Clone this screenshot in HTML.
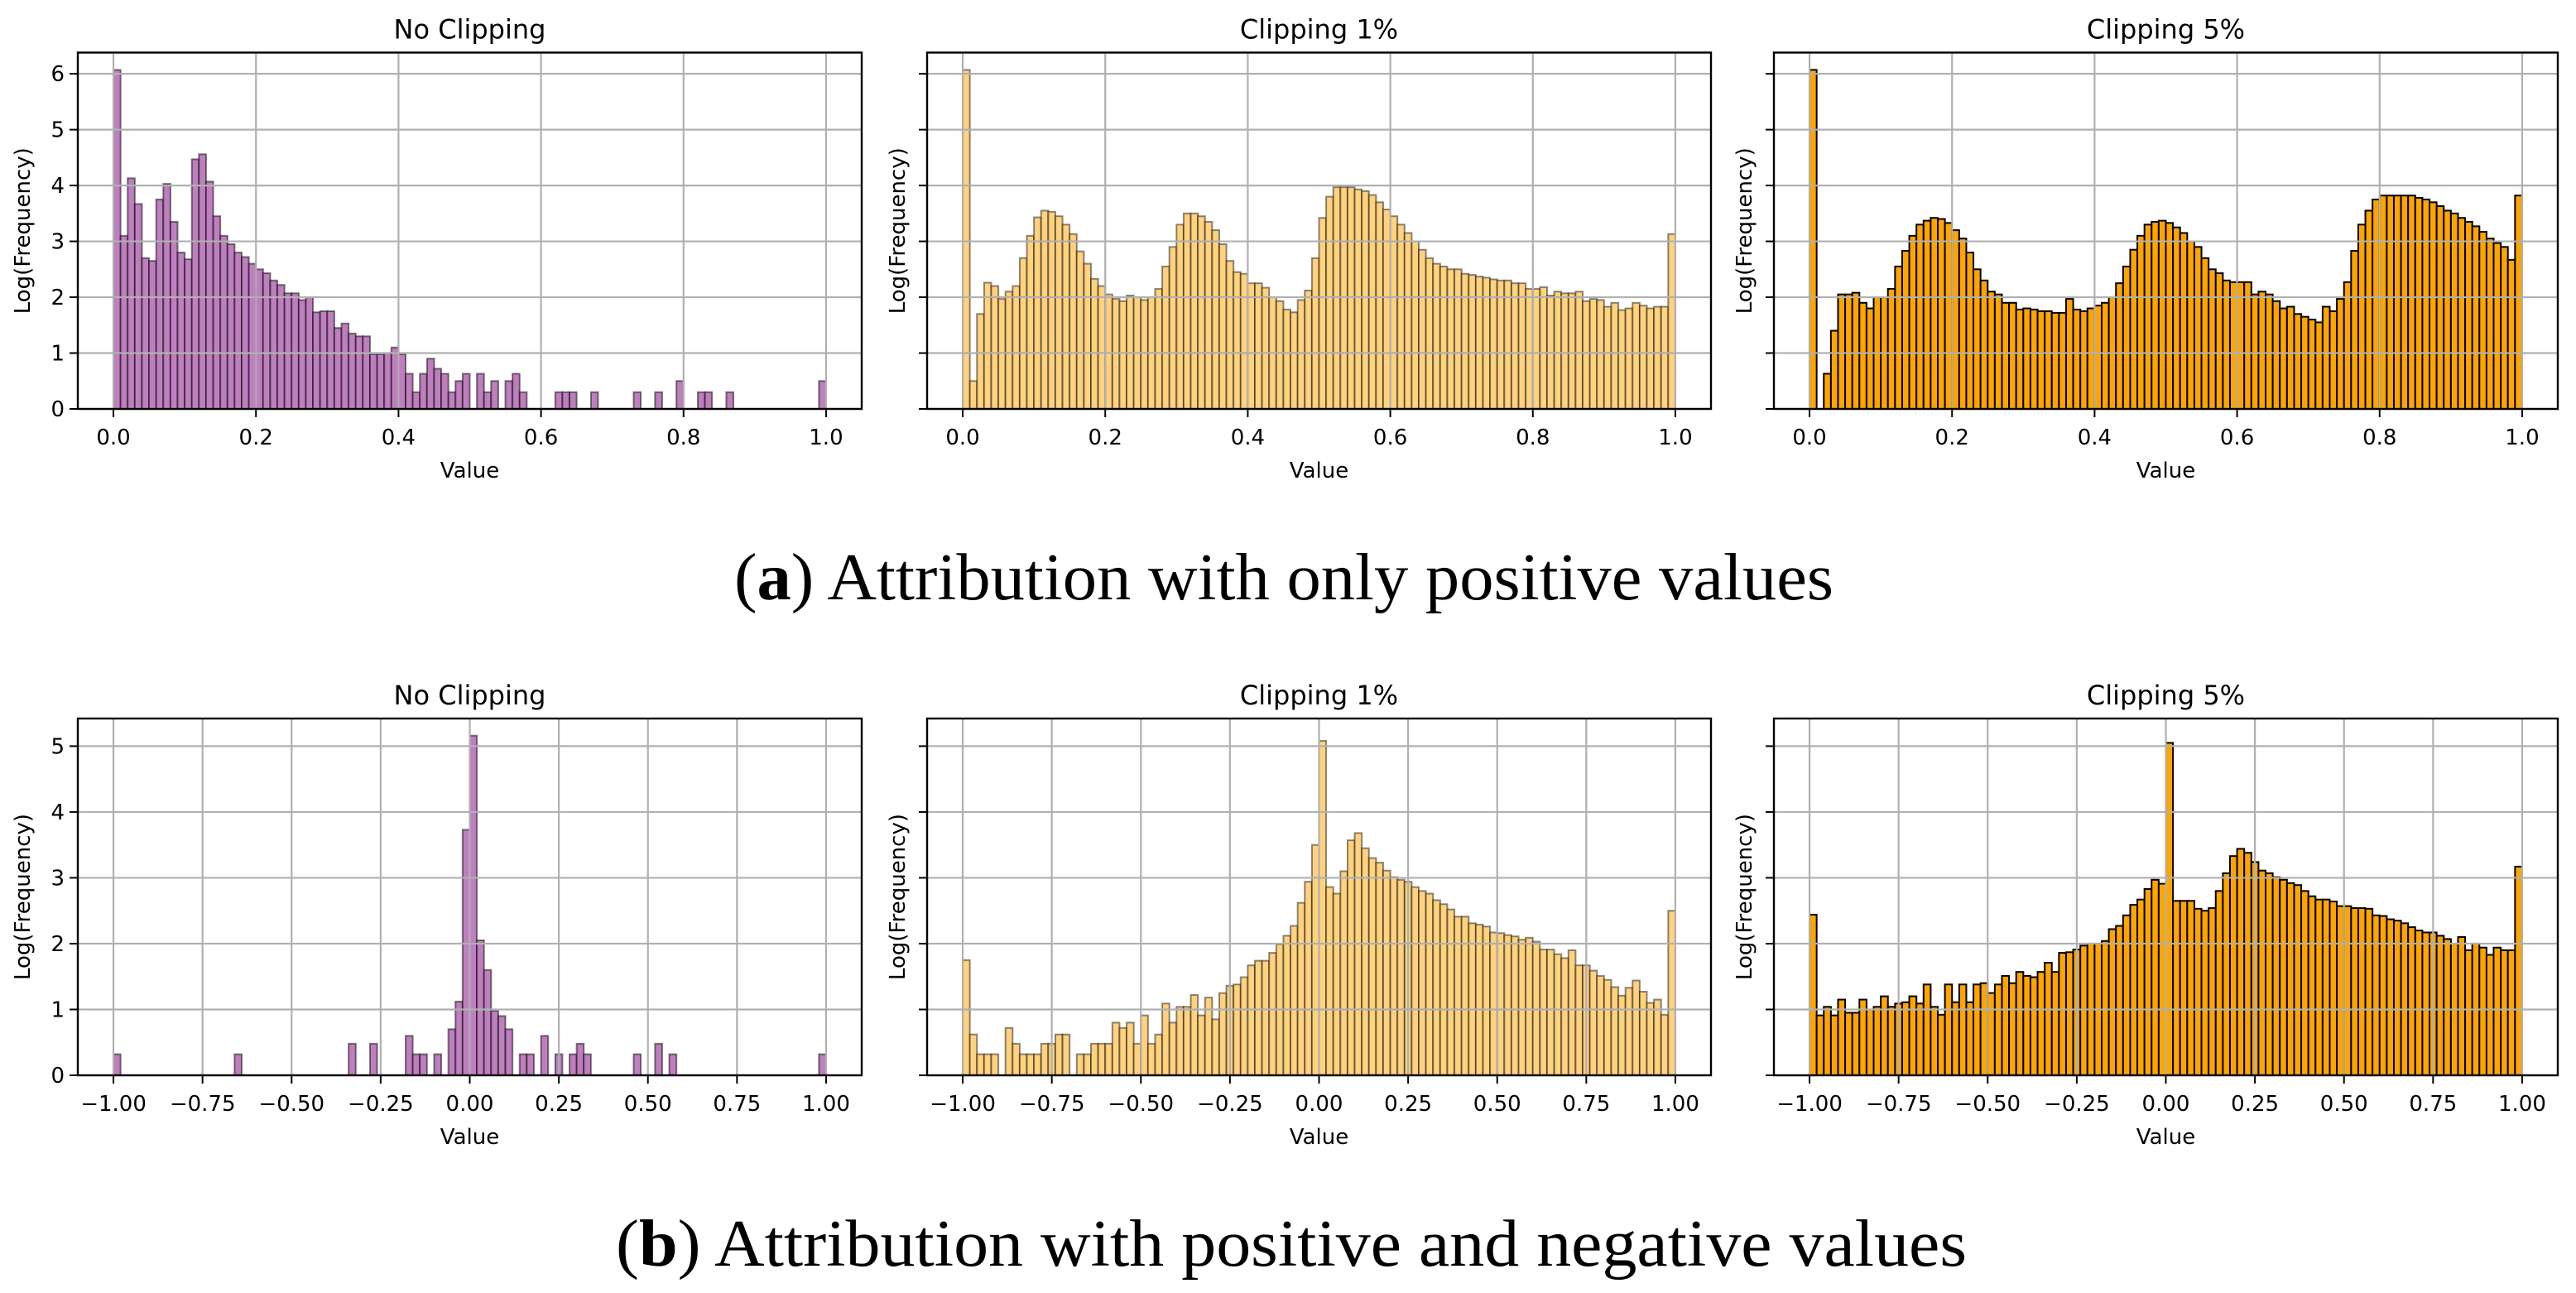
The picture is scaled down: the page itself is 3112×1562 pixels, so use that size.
<!DOCTYPE html>
<html><head><meta charset="utf-8"><style>
html,body{margin:0;padding:0;background:#fff;}
svg{display:block;}
</style></head><body>
<svg id="fig" width="3112" height="1562" viewBox="0 0 3112 1562" xmlns="http://www.w3.org/2000/svg">
<rect x="0" y="0" width="3112" height="1562" fill="#fff"/>
<text x="1551" y="724" text-anchor="middle" font-family="Liberation Serif, serif" font-size="80" textLength="1328" lengthAdjust="spacingAndGlyphs">(<tspan font-weight="bold">a</tspan>) Attribution with only positive values</text>
<text x="1560" y="1529" text-anchor="middle" font-family="Liberation Serif, serif" font-size="80" textLength="1632" lengthAdjust="spacingAndGlyphs">(<tspan font-weight="bold">b</tspan>) Attribution with positive and negative values</text>
</svg>
<script>
const a1 = [6.07,3.1,4.13,3.67,2.7,2.65,3.75,4.03,3.35,2.8, 2.68,4.47,4.56,4.07,3.45,3.1,2.95,2.8,2.72,2.6, 2.5,2.43,2.3,2.22,2.07,2.07,1.95,2.0,1.73,1.75, 1.75,1.45,1.53,1.35,1.3,1.3,0.98,0.98,1.0,1.1, 0.98,0.63,0.3,0.63,0.9,0.72,0.63,0.3,0.5,0.63, 0,0.63,0.3,0.5,0,0.5,0.63,0.3,0,0, 0,0,0.3,0.3,0.3,0,0,0.3,0,0, 0,0,0,0.3,0,0,0.3,0,0,0.5, 0,0,0.3,0.3,0,0,0.3,0,0,0, 0,0,0,0,0,0,0,0,0,0.5];
const a2 = [6.07,0.5,1.7,2.26,2.2,1.97,2.1,2.2,2.7,3.1, 3.43,3.55,3.53,3.45,3.3,3.13,2.82,2.6,2.33,2.2, 2.05,1.97,1.93,2.03,2.0,1.95,2.0,2.15,2.55,2.9, 3.3,3.5,3.5,3.45,3.35,3.2,2.95,2.65,2.45,2.42, 2.25,2.25,2.17,2.0,1.93,1.78,1.73,1.95,2.12,2.7, 3.42,3.8,3.97,3.97,3.97,3.93,3.9,3.83,3.7,3.57, 3.45,3.3,3.15,3.0,2.85,2.7,2.6,2.55,2.5,2.5, 2.42,2.4,2.37,2.35,2.32,2.3,2.3,2.25,2.25,2.15, 2.15,2.18,2.03,2.1,2.07,2.07,2.1,1.93,1.97,1.95, 1.83,1.9,1.77,1.8,1.9,1.85,1.8,1.83,1.83,3.13];
const a3 = [6.07,0,0.63,1.4,2.05,2.05,2.08,1.9,1.8,2.0, 2.0,2.15,2.55,2.83,3.1,3.3,3.37,3.42,3.4,3.33, 3.2,3.05,2.8,2.5,2.3,2.1,2.05,1.9,1.9,1.78, 1.8,1.78,1.75,1.75,1.72,1.72,1.97,1.78,1.75,1.8, 1.85,1.9,2.0,2.25,2.55,2.85,3.1,3.3,3.35,3.37, 3.33,3.25,3.15,3.0,2.9,2.7,2.5,2.43,2.3,2.27, 2.27,2.27,2.05,2.1,2.05,1.93,1.8,1.83,1.7,1.65, 1.6,1.55,1.83,1.75,1.97,2.27,2.83,3.3,3.55,3.75, 3.82,3.82,3.82,3.82,3.82,3.78,3.75,3.7,3.63,3.55, 3.5,3.42,3.35,3.27,3.17,3.05,2.97,2.9,2.67,3.82];
const b1 = [0.32,0,0,0,0,0,0,0,0,0, 0,0,0,0,0,0,0,0.32,0,0, 0,0,0,0,0,0,0,0,0,0, 0,0,0,0.48,0,0,0.48,0,0,0, 0,0.6,0.32,0.32,0,0.32,0,0.7,1.12,3.73, 5.16,2.05,1.6,0.98,0.9,0.7,0,0.32,0.32,0, 0.6,0,0.32,0,0.32,0.48,0.32,0,0,0, 0,0,0,0.32,0,0,0.48,0,0.32,0, 0,0,0,0,0,0,0,0,0,0, 0,0,0,0,0,0,0,0,0,0.32];
const b2 = [1.75,0.62,0.32,0.32,0.32,0,0.72,0.48,0.32,0.32, 0.32,0.48,0.48,0.62,0.62,0,0.32,0.32,0.48,0.48, 0.48,0.8,0.72,0.8,0.48,0.91,0.48,0.62,1.09,0.8, 1.04,1.04,1.22,0.91,1.18,0.85,1.25,1.36,1.38,1.49, 1.67,1.74,1.74,1.86,1.99,2.12,2.27,2.62,2.94,3.5, 5.08,2.86,2.76,3.1,3.57,3.68,3.45,3.3,3.23,3.11, 3.01,2.97,2.94,2.86,2.8,2.76,2.66,2.6,2.52,2.41, 2.41,2.31,2.29,2.26,2.17,2.16,2.13,2.11,2.06,2.09, 2.03,1.91,1.91,1.84,1.78,1.9,1.67,1.67,1.59,1.51, 1.45,1.34,1.21,1.33,1.44,1.27,1.1,1.15,0.92,2.5];
const b3 = [2.44,0.91,1.04,0.91,1.15,0.95,0.95,1.15,1.0,1.04, 1.2,1.04,1.09,1.11,1.2,1.09,1.38,1.04,0.92,1.38, 1.11,1.38,1.11,1.38,1.4,1.25,1.38,1.51,1.4,1.57, 1.51,1.49,1.57,1.71,1.57,1.86,1.87,1.91,1.97,2.0, 2.0,2.04,2.22,2.27,2.43,2.59,2.67,2.83,2.97,2.91, 5.05,2.65,2.65,2.65,2.53,2.5,2.54,2.8,3.07,3.33, 3.44,3.38,3.24,3.11,3.07,3.01,2.97,2.92,2.89,2.8, 2.72,2.67,2.67,2.64,2.57,2.57,2.54,2.54,2.53,2.43, 2.42,2.37,2.35,2.31,2.25,2.2,2.17,2.17,2.12,2.07, 2.0,2.1,1.9,2.0,1.94,1.83,1.94,1.9,1.9,3.17];
const titles = ["No Clipping","Clipping 1%","Clipping 5%"];
const xticksTop = [0,0.2,0.4,0.6,0.8,1.0];
const xtickLabelsTop = ["0.0","0.2","0.4","0.6","0.8","1.0"];
const xticksBot = [-1,-0.75,-0.5,-0.25,0,0.25,0.5,0.75,1];
const xtickLabelsBot = ["\u22121.00","\u22120.75","\u22120.50","\u22120.25","0.00","0.25","0.50","0.75","1.00"];
const yticksTop = [0,1,2,3,4,5,6];
const yticksBot = [0,1,2,3,4,5];

const NS = "http://www.w3.org/2000/svg";
const svg = document.getElementById("fig");
function mk(tag, attrs, parent){
  const e = document.createElementNS(NS, tag);
  for (const k in attrs) e.setAttribute(k, attrs[k]);
  (parent||svg).appendChild(e);
  return e;
}
const lefts = [94,1120,2143];
const W = 947;
const styles = [
  {fill:"#bf7fbf", stroke:"rgba(0,0,0,0.5)"},
  {fill:"#ffd27f", stroke:"rgba(0,0,0,0.45)"},
  {fill:"#ffa500", stroke:"#000"}
];
function panel(row, col, data){
  const top = row===0 ? 63.5 : 868;
  const bottom = row===0 ? 494 : 1299;
  const ymax = row===0 ? 6.38 : 5.42;
  const xmin = row===0 ? -0.05 : -1.1;
  const xmax = row===0 ? 1.05 : 1.1;
  const lo = row===0 ? 0 : -1, hi = 1;
  const L = lefts[col];
  const X = v => L + (v - xmin)/(xmax - xmin)*W;
  const Y = v => bottom - v/ymax*(bottom-top);
  const g = mk("g", {});
  
  
  // bars
  const n = data.length, bw = (hi-lo)/n;
  const st = styles[col];
  for (let i=0;i<n;i++){
    const v = data[i];
    if (v<=0) continue;
    const x0 = X(lo + i*bw), x1 = X(lo + (i+1)*bw);
    const r = mk("rect", {x:x0, y:Y(v), width:x1-x0, height:Y(0)-Y(v), fill:st.fill, stroke:st.stroke, "stroke-width":2}, g);
    
    
  }
  // grid on top
  const xt = row===0 ? xticksTop : xticksBot;
  const xl = row===0 ? xtickLabelsTop : xtickLabelsBot;
  const yt = row===0 ? yticksTop : yticksBot;
  xt.forEach((t,i)=>{
    const gl = mk("line", {x1:X(t), x2:X(t), y1:top, y2:bottom, stroke:"#b0b0b0", "stroke-width":2.2}, g);
    
    
    mk("line", {x1:X(t), x2:X(t), y1:bottom, y2:bottom+10, stroke:"#000", "stroke-width":2}, g);
    const tl = mk("text", {x:X(t), y:bottom+43, "text-anchor":"middle", "font-family":"DejaVu Sans, sans-serif", "font-size":26, fill:"#000"}, g);
    tl.textContent = xl[i];
    
    
  });
  yt.forEach(t=>{
    const gl = mk("line", {x1:L, x2:L+W, y1:Y(t), y2:Y(t), stroke:"#b0b0b0", "stroke-width":2.2}, g);
    
    
    mk("line", {x1:L-10, x2:L, y1:Y(t), y2:Y(t), stroke:"#000", "stroke-width":2}, g);
    if (col===0){
      const tl = mk("text", {x:L-16, y:Y(t)+9, "text-anchor":"end", "font-family":"DejaVu Sans, sans-serif", "font-size":26, fill:"#000"}, g);
      tl.textContent = String(t);
      
      
    }
  });
  const fr = mk("rect", {x:L, y:top, width:W, height:bottom-top, fill:"none", stroke:"#000", "stroke-width":2.4}, g);
  
  
  const tt = mk("text", {x:L+W/2, y:top-17, "text-anchor":"middle", "font-family":"DejaVu Sans, sans-serif", "font-size":32, fill:"#000"}, g);
  tt.textContent = titles[col];
  
  
  const xlab = mk("text", {x:L+W/2, y:bottom+83, "text-anchor":"middle", "font-family":"DejaVu Sans, sans-serif", "font-size":26, fill:"#000"}, g);
  xlab.textContent = "Value";
  
  
  const yx = col===0 ? L-58 : L-27;
  const yc = (top+bottom)/2;
  const ylab = mk("text", {x:yx, y:yc, "text-anchor":"middle", "font-family":"DejaVu Sans, sans-serif", "font-size":26, fill:"#000", transform:"rotate(-90 "+yx+" "+yc+")"}, g);
  ylab.textContent = "Log(Frequency)";
  
  
}
panel(0,0,a1); panel(0,1,a2); panel(0,2,a3);
panel(1,0,b1); panel(1,1,b2); panel(1,2,b3);
</script>
</body></html>
